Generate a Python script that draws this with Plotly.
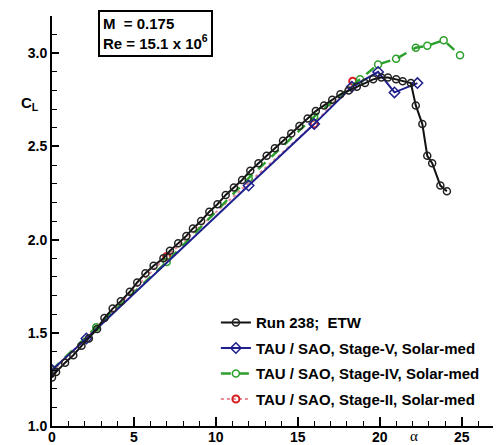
import plotly.graph_objects as go

# ---- data ----
alpha_etw = [0.0, 0.25, 0.8, 1.3, 1.8, 2.25, 2.75, 3.2, 3.7, 4.2, 4.75, 5.2, 5.7, 6.2,
             6.8, 7.2, 7.7, 8.2, 8.6, 9.1, 9.6, 10.1, 10.6, 11.1, 11.6, 12.1, 12.6,
             13.1, 13.6, 14.1, 14.6, 15.1, 15.6, 16.1, 16.6, 17.1, 17.6, 18.1, 18.6,
             19.1, 19.6, 20.1, 20.5, 21.0, 21.4, 21.9, 22.2, 22.6, 22.9, 23.2, 23.7, 24.1]
cl_etw = [1.26, 1.29, 1.34, 1.38, 1.43, 1.47, 1.52, 1.58, 1.63, 1.67, 1.72, 1.77, 1.82,
          1.86, 1.90, 1.94, 1.98, 2.02, 2.06, 2.10, 2.15, 2.19, 2.24, 2.28, 2.32, 2.37,
          2.41, 2.45, 2.49, 2.53, 2.57, 2.61, 2.65, 2.69, 2.72, 2.75, 2.78, 2.80, 2.82,
          2.84, 2.86, 2.87, 2.87, 2.86, 2.85, 2.84, 2.72, 2.62, 2.45, 2.41, 2.29, 2.26]

alpha_v = [0.0, 2.1, 12.0, 16.0, 18.3, 19.9, 20.9, 22.3]
cl_v = [1.30, 1.47, 2.29, 2.62, 2.82, 2.90, 2.79, 2.84]

alpha_iv = [0.0, 2.7, 7.0, 12.0, 16.0, 18.8, 19.9, 21.0, 22.2, 22.9, 23.9, 24.9]
cl_iv = [1.30, 1.53, 1.88, 2.33, 2.66, 2.86, 2.94, 2.97, 3.03, 3.04, 3.07, 2.99]

alpha_ii = [0.0, 7.0, 16.0, 18.35]
cl_ii = [1.29, 1.91, 2.62, 2.85]

names = ["Run 238;  ETW",
         "TAU / SAO, Stage-V, Solar-med",
         "TAU / SAO, Stage-IV, Solar-med",
         "TAU / SAO, Stage-II, Solar-med"]

FONT = "Liberation Sans, Arial, sans-serif"

fig = go.Figure()

fig.add_trace(go.Scatter(
    x=alpha_ii, y=cl_ii, name=names[3], mode="lines+markers", legendrank=4, legendgroup="d",
    line=dict(color="#e88a96", width=2, dash="dot"),
    marker=dict(symbol="circle-open", size=7, color="#d42020", line=dict(width=2))))

fig.add_trace(go.Scatter(
    x=alpha_iv, y=cl_iv, name=names[2], mode="lines+markers", legendrank=3, legendgroup="c",
    line=dict(color="#2ca02c", width=2.5, dash="10px,8px"),
    marker=dict(symbol="circle-open", size=7, color="#2ca02c", line=dict(width=1.5))))

fig.add_trace(go.Scatter(
    x=alpha_v, y=cl_v, name=names[1], mode="lines+markers", legendrank=2, legendgroup="b",
    line=dict(color="#1e1e8c", width=2),
    marker=dict(symbol="diamond-open", size=8, color="#1e1e8c", line=dict(width=1.5))))

fig.add_trace(go.Scatter(
    x=alpha_etw, y=cl_etw, name=names[0], mode="lines+markers", legendrank=1, legendgroup="a",
    line=dict(color="#111111", width=2),
    marker=dict(symbol="circle-open", size=7, color="#222222", line=dict(width=1.5))))

fig.update_layout(
    width=493, height=437,
    margin=dict(l=44, r=0, t=8, b=19, autoexpand=False),
    paper_bgcolor="white", plot_bgcolor="white",
    font=dict(family=FONT, size=13, color="black"),
    showlegend=True,
    legend=dict(
        x=0.365, y=0.292, xanchor="left", yanchor="top",
        bgcolor="rgba(0,0,0,0)",
        font=dict(family=FONT, size=15, color="black", weight="bold"),
        tracegroupgap=3,
    ),
    xaxis=dict(
        range=[0, 27.4], showgrid=False, zeroline=False, automargin=False,
        showline=True, linecolor="black", linewidth=2,
        ticks="inside", ticklen=9, tickwidth=2, tickcolor="black",
        tickvals=[0, 5, 10, 15, 20, 25], ticktext=["0", "5", "10", "15", "20", "25"],
        tickfont=dict(family=FONT, size=14, color="black", weight="bold"),
        ticklabelstandoff=-3,
        minor=dict(dtick=1, ticks="inside", ticklen=5, tickwidth=1, tickcolor="black"),
    ),
    yaxis=dict(
        range=[1.0, 3.2], showgrid=False, zeroline=False, automargin=False,
        showline=True, linecolor="black", linewidth=2,
        ticks="inside", ticklen=7, tickwidth=2, tickcolor="black",
        tickvals=[1.0, 1.5, 2.0, 2.5, 3.0], ticktext=["1.0", "1.5", "2.0", "2.5", "3.0"],
        tickfont=dict(family=FONT, size=14, color="black", weight="bold"),
        minor=dict(dtick=0.1, ticks="inside", ticklen=5, tickwidth=1, tickcolor="black"),
    ),
)

fig.add_annotation(
    text="C<sub>L</sub>", xref="paper", yref="y", x=-0.05, y=2.73,
    xanchor="center", yanchor="middle", showarrow=False,
    font=dict(family=FONT, size=15, color="black", weight="bold"))

fig.add_annotation(
    text="α", xref="x", yref="paper", x=22.1, y=-0.024,
    xanchor="center", yanchor="middle", showarrow=False, borderpad=0,
    font=dict(family="Liberation Serif, serif", size=15, color="black"))

fig.add_annotation(
    text="M  = 0.175<br>Re = 15.1 x 10<sup>6</sup>", xref="paper", yref="paper",
    x=0.102, y=1.015, xanchor="left", yanchor="top", align="left", showarrow=False,
    bordercolor="black", borderwidth=2, borderpad=3, bgcolor="white",
    font=dict(family=FONT, size=15, color="black", weight="bold"))

fig.write_html("out.html")
